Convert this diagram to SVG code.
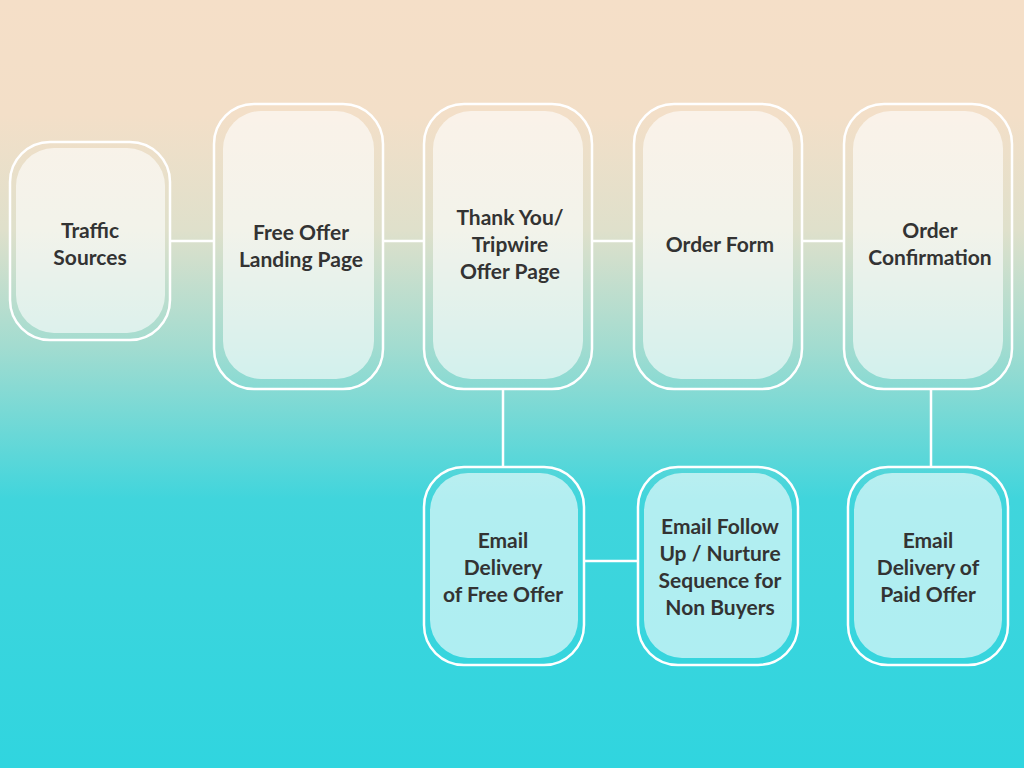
<svg xmlns="http://www.w3.org/2000/svg" width="1024" height="768" viewBox="0 0 1024 768">
<defs>
<linearGradient id="bg" x1="0" y1="0" x2="0" y2="1">
<stop offset="0" stop-color="#f5dfc8"/><stop offset="0.15" stop-color="#f3dfc8"/><stop offset="0.3" stop-color="#dfe0cb"/><stop offset="0.45" stop-color="#a3dcd0"/><stop offset="0.65" stop-color="#40d5dc"/><stop offset="1" stop-color="#30d5df"/>
</linearGradient>
<style>
.o{fill:none;stroke:#fff;stroke-width:2.5}
.i{fill:#fff;fill-opacity:0.6}
.c{stroke:#fff;stroke-width:2.5;fill:none}
text{font-family:Lato,"Open Sans",sans-serif;font-weight:bold;font-size:21px;fill:#333;text-anchor:middle}
</style>
</defs>
<rect width="1024" height="768" fill="url(#bg)"/>
<g id="connectors">
<path class="c" d="M170 241H214M383 241H424M592 241H634M802 241H844M503 389V467M584 561H638M931 389V467"/>
</g>
<g id="n1"><rect class="o" x="10" y="142" width="160" height="198" rx="40"/><rect class="i" x="16" y="148" width="149" height="185" rx="38"/><text x="90" y="238">Traffic</text><text x="90" y="265">Sources</text></g>
<g id="n2"><rect class="o" x="214" y="104" width="169" height="285" rx="40"/><rect class="i" x="223" y="111" width="151" height="268" rx="38"/><text x="301" y="240">Free Offer</text><text x="301" y="267">Landing Page</text></g>
<g id="n3"><rect class="o" x="424" y="104" width="168" height="285" rx="40"/><rect class="i" x="433" y="111" width="150" height="268" rx="38"/><text x="510" y="225">Thank You/</text><text x="510" y="252">Tripwire</text><text x="510" y="279">Offer Page</text></g>
<g id="n4"><rect class="o" x="634" y="104" width="168" height="285" rx="40"/><rect class="i" x="643" y="111" width="150" height="268" rx="38"/><text x="720" y="252">Order Form</text></g>
<g id="n5"><rect class="o" x="844" y="104" width="168" height="285" rx="40"/><rect class="i" x="853" y="111" width="150" height="268" rx="38"/><text x="930" y="238">Order</text><text x="930" y="265">Confirmation</text></g>
<g id="n6"><rect class="o" x="424" y="467" width="160" height="198" rx="40"/><rect class="i" x="430" y="473" width="148" height="185" rx="38" fill-opacity="0.45"/><text x="503" y="548">Email</text><text x="503" y="575">Delivery</text><text x="503" y="602">of Free Offer</text></g>
<g id="n7"><rect class="o" x="638" y="467" width="160" height="198" rx="40"/><rect class="i" x="644" y="473" width="148" height="185" rx="38" fill-opacity="0.45"/><text x="720" y="534">Email Follow</text><text x="720" y="561">Up / Nurture</text><text x="720" y="588">Sequence for</text><text x="720" y="615">Non Buyers</text></g>
<g id="n8"><rect class="o" x="848" y="467" width="160" height="198" rx="40"/><rect class="i" x="854" y="473" width="148" height="185" rx="38" fill-opacity="0.45"/><text x="928" y="548">Email</text><text x="928" y="575">Delivery of</text><text x="928" y="602">Paid Offer</text></g>
</svg>
